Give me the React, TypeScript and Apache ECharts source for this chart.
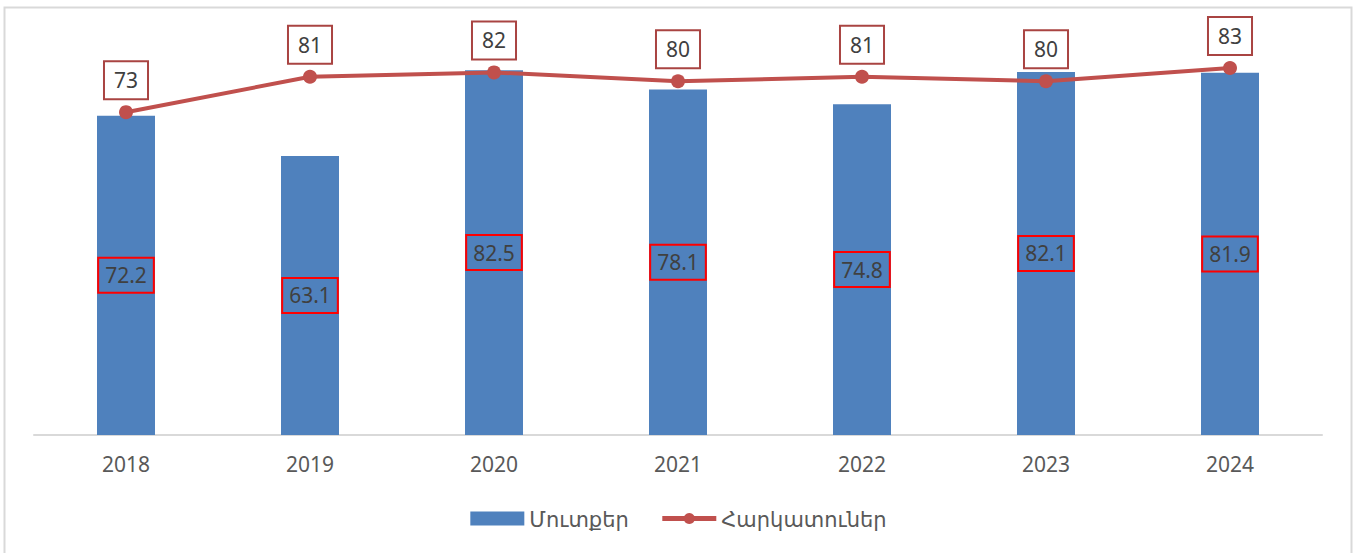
import React, { useEffect, useRef } from "react";
import * as echarts from "echarts";

const years = ["2018", "2019", "2020", "2021", "2022", "2023", "2024"];
const inflows = [72.2, 63.1, 82.5, 78.1, 74.8, 82.1, 81.9];
const taxpayers = [73, 81, 82, 80, 81, 80, 83];
const seriesNames = ["Մուտքեր", "Հարկատուներ"];

const FONT = "'Noto Sans', 'DejaVu Sans', sans-serif";

export default function App() {
  const ref = useRef<HTMLDivElement>(null);
  useEffect(() => {
    document.body.style.margin = "0";
    const chart = echarts.init(ref.current!, null, { renderer: "svg" });
    chart.setOption({
      animation: false,
      backgroundColor: "#ffffff",
      textStyle: { fontFamily: FONT },
      graphic: [
        {
          type: "rect",
          shape: { x: 4.5, y: 7.5, width: 1347, height: 600 },
          style: { fill: "none", stroke: "#D9D9D9", lineWidth: 2 },
          silent: true,
        },
      ],
      grid: { left: 34, right: 35, top: 37, bottom: 118, containLabel: false },
      legend: {
        bottom: 19,
        left: "center",
        itemWidth: 54,
        itemHeight: 14,
        itemGap: 31,
        textStyle: { fontSize: 21, color: "#595959", fontFamily: FONT },
        data: [
          { name: seriesNames[0], icon: "rect" },
          {
            name: seriesNames[1],
            lineStyle: { width: 5, color: "#C0504D" },
            itemStyle: { color: "#C0504D" },
          },
        ],
      },
      xAxis: {
        type: "category",
        data: years,
        axisLine: { show: true, lineStyle: { color: "#D9D9D9", width: 2 } },
        axisTick: { show: false },
        axisLabel: { fontSize: 21, color: "#595959", margin: 18, fontFamily: FONT },
      },
      yAxis: {
        type: "value",
        min: 0,
        max: 90,
        show: false,
        splitLine: { show: false },
      },
      series: [
        {
          name: seriesNames[0],
          type: "bar",
          data: inflows,
          barWidth: 58,
          itemStyle: { color: "#4F81BD" },
          label: {
            show: true,
            position: "inside",
            fontSize: 21,
            color: "#404040",
            fontFamily: FONT,
            borderColor: "#FF0000",
            borderWidth: 2,
            padding: [4, 7],
            lineHeight: 27,
          },
        },
        {
          name: seriesNames[1],
          type: "line",
          data: taxpayers,
          symbol: "circle",
          symbolSize: 14,
          itemStyle: { color: "#C0504D" },
          lineStyle: { color: "#C0504D", width: 4 },
          label: {
            show: true,
            position: "top",
            distance: 7,
            fontSize: 21,
            color: "#404040",
            fontFamily: FONT,
            backgroundColor: "#FFFFFF",
            borderColor: "#A94442",
            borderWidth: 2,
            padding: [5, 9],
            lineHeight: 26,
          },
        },
      ],
    });
    return () => chart.dispose();
  }, []);
  return <div ref={ref} style={{ width: 1357, height: 553 }} />;
}
